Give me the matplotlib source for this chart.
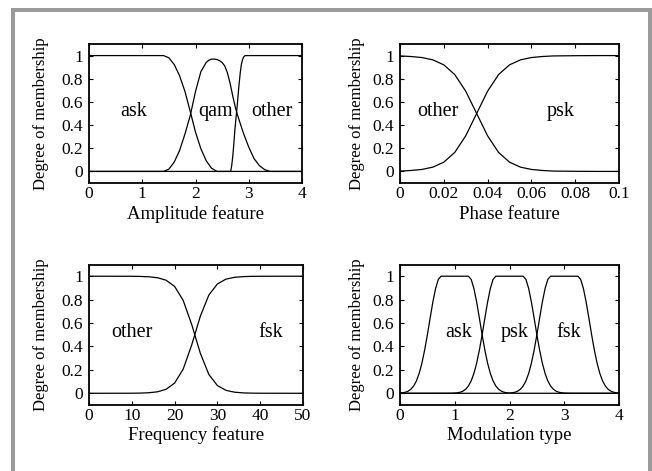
import matplotlib
matplotlib.use('Agg')
import matplotlib.pyplot as plt
from matplotlib.patches import Rectangle

plt.rcParams['font.family'] = ['Liberation Serif', 'DejaVu Serif']

# amplitude feature panel
amp_ask_x = [0, 1.4, 1.5, 1.6, 1.7, 1.8, 1.9, 2.0, 2.1, 2.2, 2.3, 2.4, 2.42, 4.0]
amp_ask_y = [1, 1, 0.981, 0.923, 0.827, 0.693, 0.520, 0.339, 0.197, 0.093, 0.028, 0.001, 0, 0]
amp_qam_x = [0, 1.4, 1.5, 1.6, 1.7, 1.8, 1.9, 2.0, 2.1, 2.2, 2.25, 2.3, 2.35, 2.4, 2.45,
             2.5, 2.55, 2.6, 2.65, 2.7, 2.75, 2.78, 2.85, 2.9, 3.0, 3.1, 3.2, 3.3, 3.4, 4.0]
amp_qam_y = [0, 0, 0.02, 0.08, 0.18, 0.32, 0.48, 0.69, 0.86, 0.94, 0.96, 0.969, 0.97,
             0.966, 0.957, 0.94, 0.91, 0.85, 0.76, 0.65, 0.55, 0.5, 0.40, 0.33, 0.21, 0.11,
             0.05, 0.015, 0, 0]
amp_other_x = [0, 2.66, 2.68, 2.70, 2.72, 2.74, 2.76, 2.78, 2.80, 2.82, 2.84, 2.86, 2.88,
               2.90, 2.93, 4.0]
amp_other_y = [0, 0, 0.05, 0.13, 0.24, 0.36, 0.46, 0.55, 0.66, 0.76, 0.85, 0.92, 0.96,
               0.985, 1, 1]

# phase feature panel
phase_x = [0, 0.005, 0.01, 0.015, 0.02, 0.025, 0.03, 0.035, 0.04, 0.045, 0.05, 0.055,
           0.06, 0.065, 0.07, 0.08, 0.09, 0.1]
phase_psk = [0.003, 0.008, 0.017, 0.037, 0.080, 0.164, 0.307, 0.5, 0.693, 0.836, 0.920,
             0.963, 0.983, 0.992, 0.997, 0.999, 1.0, 1.0]
phase_other = [0.997, 0.992, 0.983, 0.963, 0.920, 0.836, 0.693, 0.5, 0.307, 0.164, 0.080,
               0.037, 0.017, 0.008, 0.003, 0.001, 0, 0]

# frequency feature panel
freq_x = [0, 10, 12, 14, 16, 18, 20, 22, 24, 26, 28, 30, 32, 34, 36, 38, 40, 50]
freq_fsk = [0, 0.0006, 0.0017, 0.0047, 0.0127, 0.034, 0.087, 0.206, 0.413, 0.657, 0.839,
            0.934, 0.975, 0.9905, 0.9965, 0.9987, 0.9995, 1]
freq_other = [1, 0.9994, 0.998, 0.995, 0.987, 0.966, 0.913, 0.794, 0.587, 0.343, 0.161,
              0.066, 0.025, 0.0095, 0.0035, 0.0013, 0.0005, 0]

# modulation type panel
mod_ask_x = [0, 0.05, 0.1, 0.15, 0.2, 0.25, 0.3, 0.35, 0.4, 0.45, 0.5, 0.55, 0.6, 0.65,
             0.7, 0.75, 1.25, 1.3, 1.35, 1.4, 1.45, 1.5, 1.55, 1.6, 1.65, 1.7, 1.75, 1.8,
             1.85, 1.9, 1.95, 2.0, 2.05, 2.1, 2.15, 4.0]
mod_ask_y = [0.002, 0.0044, 0.0092, 0.0185, 0.035, 0.0626, 0.106, 0.1697, 0.2571, 0.3687,
             0.5, 0.6418, 0.7793, 0.895, 0.9727, 1, 1, 0.9727, 0.895, 0.7793, 0.6418, 0.5,
             0.3687, 0.2571, 0.1697, 0.106, 0.0626, 0.035, 0.0185, 0.0092, 0.0044, 0.002,
             0.0008, 0.0003, 0.0001, 0]
mod_psk_x = [0, 0.85, 0.9, 0.95, 1.0, 1.05, 1.1, 1.15, 1.2, 1.25, 1.3, 1.35, 1.4, 1.45,
             1.5, 1.55, 1.6, 1.65, 1.7, 1.75, 2.25, 2.3, 2.35, 2.4, 2.45, 2.5, 2.55, 2.6,
             2.65, 2.7, 2.75, 2.8, 2.85, 2.9, 2.95, 3.0, 3.05, 3.1, 3.15, 4.0]
mod_psk_y = [0, 0.0001, 0.0003, 0.0008, 0.002, 0.0044, 0.0092, 0.0185, 0.035, 0.0626,
             0.106, 0.1697, 0.2571, 0.3687, 0.5, 0.6418, 0.7793, 0.895, 0.9727, 1, 1,
             0.9727, 0.895, 0.7793, 0.6418, 0.5, 0.3687, 0.2571, 0.1697, 0.106, 0.0626,
             0.035, 0.0185, 0.0092, 0.0044, 0.002, 0.0008, 0.0003, 0.0001, 0]
mod_fsk_x = [0, 1.85, 1.9, 1.95, 2.0, 2.05, 2.1, 2.15, 2.2, 2.25, 2.3, 2.35, 2.4, 2.45,
             2.5, 2.55, 2.6, 2.65, 2.7, 2.75, 3.25, 3.3, 3.35, 3.4, 3.45, 3.5, 3.55, 3.6,
             3.65, 3.7, 3.75, 3.8, 3.85, 3.9, 3.95, 4.0]
mod_fsk_y = [0, 0.0001, 0.0003, 0.0008, 0.002, 0.0044, 0.0092, 0.0185, 0.035, 0.0626,
             0.106, 0.1697, 0.2571, 0.3687, 0.5, 0.6418, 0.7793, 0.895, 0.9727, 1, 1,
             0.9727, 0.895, 0.7793, 0.6418, 0.5, 0.3687, 0.2571, 0.1697, 0.106, 0.0626,
             0.035, 0.0185, 0.0092, 0.0044, 0.002]

y_ticks = [0, 0.2, 0.4, 0.6, 0.8, 1]
y_labels = ['0', '0.2', '0.4', '0.6', '0.8', '1']


def setupAxis(ax, xmax, xticks, xlabels, xtitle, ylab_x, xlab_y):
    ax.set_xlim(0, xmax)
    ax.set_ylim(-0.1, 1.1)
    ax.set_xticks(xticks)
    ax.set_xticklabels(xlabels)
    ax.set_yticks(y_ticks)
    ax.set_yticklabels(y_labels)
    ax.tick_params(direction='in', length=3, width=0.8, top=True, right=True,
                   labelsize=12.5, colors='black')
    ax.tick_params(axis='x', pad=2.5)
    ax.tick_params(axis='y', pad=4.5)
    for s in ax.spines.values():
        s.set_linewidth(1.3)
    ax.set_xlabel(xtitle, fontsize=13.5, va='center')
    ax.set_ylabel('Degree of membership', fontsize=12, va='center')
    ax.yaxis.set_label_coords(ylab_x, 0.5)
    ax.xaxis.set_label_coords(0.5, xlab_y)


fig = plt.figure(figsize=(6.52, 4.71), dpi=100)

# grey frame
fig.add_artist(Rectangle((11 / 652, 0), 4 / 652, 463 / 471, transform=fig.transFigure,
                         color='#9b9b9b', lw=0))
fig.add_artist(Rectangle((11 / 652, 459 / 471), 641 / 652, 4 / 471, transform=fig.transFigure,
                         color='#9b9b9b', lw=0))
fig.add_artist(Rectangle((648 / 652, 0), 4 / 652, 463 / 471, transform=fig.transFigure,
                         color='#9b9b9b', lw=0))

lw = 0.9
txt = dict(fontsize=14.5, ha='center', va='center')

ax1 = fig.add_axes([89 / 652, 1 - 183 / 471, 213 / 652, 139 / 471])
ax1.plot(amp_ask_x, amp_ask_y, color='black', lw=lw)
ax1.plot(amp_qam_x, amp_qam_y, color='black', lw=lw)
ax1.plot(amp_other_x, amp_other_y, color='black', lw=lw)
setupAxis(ax1, 4, [0, 1, 2, 3, 4], ['0', '1', '2', '3', '4'], 'Amplitude feature',
          -0.225, -0.225)
ax1.text(0.83, 0.52, 'ask', **txt)
ax1.text(2.37, 0.52, 'qam', **txt)
ax1.text(3.43, 0.52, 'other', **txt)

ax2 = fig.add_axes([400 / 652, 1 - 183 / 471, 219 / 652, 139 / 471])
ax2.plot(phase_x, phase_other, color='black', lw=lw)
ax2.plot(phase_x, phase_psk, color='black', lw=lw)
setupAxis(ax2, 0.1, [0, 0.02, 0.04, 0.06, 0.08, 0.1],
          ['0', '0.02', '0.04', '0.06', '0.08', '0.1'], 'Phase feature', -0.196, -0.225)
ax2.text(0.0172, 0.52, 'other', **txt)
ax2.text(0.0735, 0.52, 'psk', **txt)

ax3 = fig.add_axes([89 / 652, 1 - 405 / 471, 214 / 652, 140.5 / 471])
ax3.plot(freq_x, freq_other, color='black', lw=lw)
ax3.plot(freq_x, freq_fsk, color='black', lw=lw)
setupAxis(ax3, 50, [0, 10, 20, 30, 40, 50], ['0', '10', '20', '30', '40', '50'],
          'Frequency feature', -0.225, -0.215)
ax3.text(10.0, 0.52, 'other', **txt)
ax3.text(42.5, 0.52, 'fsk', **txt)

ax4 = fig.add_axes([400 / 652, 1 - 405 / 471, 219 / 652, 140.5 / 471])
ax4.plot(mod_ask_x, mod_ask_y, color='black', lw=lw)
ax4.plot(mod_psk_x, mod_psk_y, color='black', lw=lw)
ax4.plot(mod_fsk_x, mod_fsk_y, color='black', lw=lw)
setupAxis(ax4, 4, [0, 1, 2, 3, 4], ['0', '1', '2', '3', '4'], 'Modulation type',
          -0.196, -0.215)
ax4.text(1.065, 0.52, 'ask', **txt)
ax4.text(2.09, 0.52, 'psk', **txt)
ax4.text(3.08, 0.52, 'fsk', **txt)

fig.savefig('out.png', dpi=100)
